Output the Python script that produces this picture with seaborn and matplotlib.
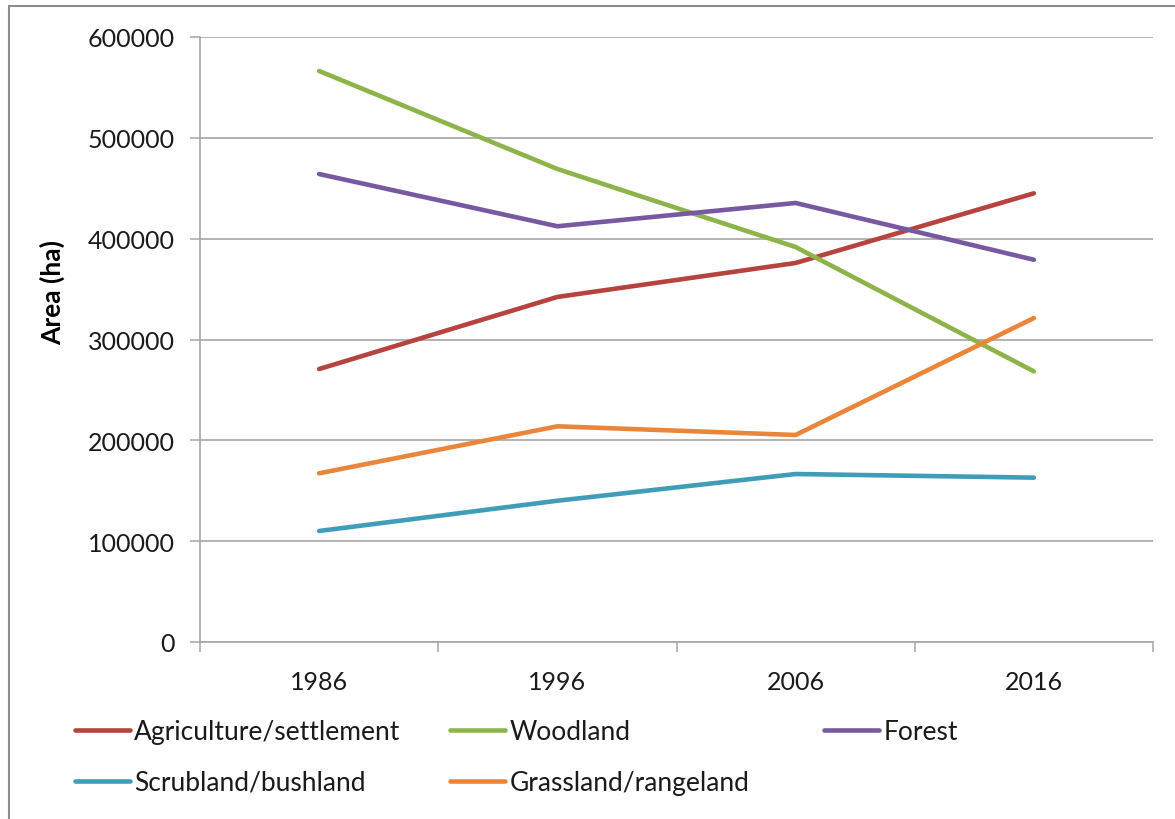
import matplotlib
matplotlib.use("Agg")
import matplotlib.pyplot as plt
from matplotlib.lines import Line2D
from matplotlib.ticker import FixedLocator
import pandas as pd
import seaborn as sns

# Land-cover area (ha) per survey year
years = ["1986", "1996", "2006", "2016"]
agriculture = [270700, 342200, 375900, 445000]
woodland = [566300, 469100, 391700, 268400]
forest = [464100, 412300, 435400, 379100]
scrubland = [110100, 140100, 166600, 163000]
grassland = [167300, 213900, 205300, 321300]

series_names = ["Agriculture/settlement", "Woodland", "Forest",
                "Scrubland/bushland", "Grassland/rangeland"]
series_values = [agriculture, woodland, forest, scrubland, grassland]
series_colors = ["#B7433F", "#8DB34A", "#7659A1", "#3F9DBA", "#EA863B"]

y_ticks = [0, 100000, 200000, 300000, 400000, 500000, 600000]

rows = []
for name, vals in zip(series_names, series_values):
    for i, (yr, v) in enumerate(zip(years, vals)):
        rows.append({"pos": i, "year": yr, "area": v, "cover": name})
df = pd.DataFrame(rows)

sns.set_theme(style="white")
plt.rcParams["font.family"] = ["Lato", "DejaVu Sans"]
text_color = "#1A1A1A"
grid_color = "#A6A6A6"
line_w = 3.3

fig = plt.figure(figsize=(11.75, 8.2), dpi=100)
ax = fig.add_axes([200 / 1175, 1 - 643 / 820, (1153 - 200) / 1175, (643 - 38) / 820])

palette = dict(zip(series_names, series_colors))
sns.lineplot(data=df, x="pos", y="area", hue="cover", hue_order=series_names,
             palette=palette, linewidth=line_w, legend=False, ax=ax,
             solid_capstyle="round")

ax.set_xlim(-0.5, len(years) - 0.5)
ax.set_ylim(0, 600000)

# y axis
ax.set_yticks(y_ticks)
ax.set_yticklabels([str(v) for v in y_ticks])
ax.yaxis.grid(True, color=grid_color, linewidth=1.2)
ax.xaxis.grid(False)
ax.tick_params(axis="y", which="major", direction="out", length=7, width=1.1,
               color=grid_color, pad=11, labelsize=18, labelcolor=text_color,
               left=True)

# x axis: labels centred on categories, tick marks between them
ax.set_xticks(range(len(years)))
ax.set_xticklabels(years)
ax.xaxis.set_minor_locator(FixedLocator([i - 0.5 for i in range(len(years) + 1)]))
ax.tick_params(axis="x", which="major", length=0, pad=20, labelsize=18,
               labelcolor=text_color)
ax.tick_params(axis="x", which="minor", direction="out", length=7, width=1.1,
               color=grid_color, bottom=True)

for side in ["top", "right"]:
    ax.spines[side].set_visible(False)
for side in ["left", "bottom"]:
    ax.spines[side].set_color(grid_color)
    ax.spines[side].set_linewidth(1.2)

ax.set_xlabel("")
ax.set_ylabel("Area (ha)", fontsize=19, fontweight="bold", color="black")
ax.yaxis.set_label_coords(-0.1417, 0.58)

# Legend laid out in three columns
columns = [[0, 3], [1, 4], [2]]
col_x = [75 / 1175, 450 / 1175, 824 / 1175]
for cx, idxs in zip(col_x, columns):
    handles = [Line2D([], [], color=series_colors[i], linewidth=line_w,
                      solid_capstyle="round") for i in idxs]
    labels = [series_names[i] for i in idxs]
    fig.legend(handles, labels, loc="upper left",
               bbox_to_anchor=(cx, 1 - 720 / 820), frameon=False,
               borderpad=0, borderaxespad=0, handlelength=2.1,
               handletextpad=0.15, labelspacing=0.98, fontsize=19,
               labelcolor=text_color)

# Outer chart border (left and top edges)
fig.add_artist(Line2D([9 / 1175, 9 / 1175], [0, 1 - 7 / 820],
                      transform=fig.transFigure, color="#8C8C8C", linewidth=1.5))
fig.add_artist(Line2D([9 / 1175, 1], [1 - 7 / 820, 1 - 7 / 820],
                      transform=fig.transFigure, color="#8C8C8C", linewidth=1.5))

fig.savefig("out.png", dpi=100, facecolor="white")
